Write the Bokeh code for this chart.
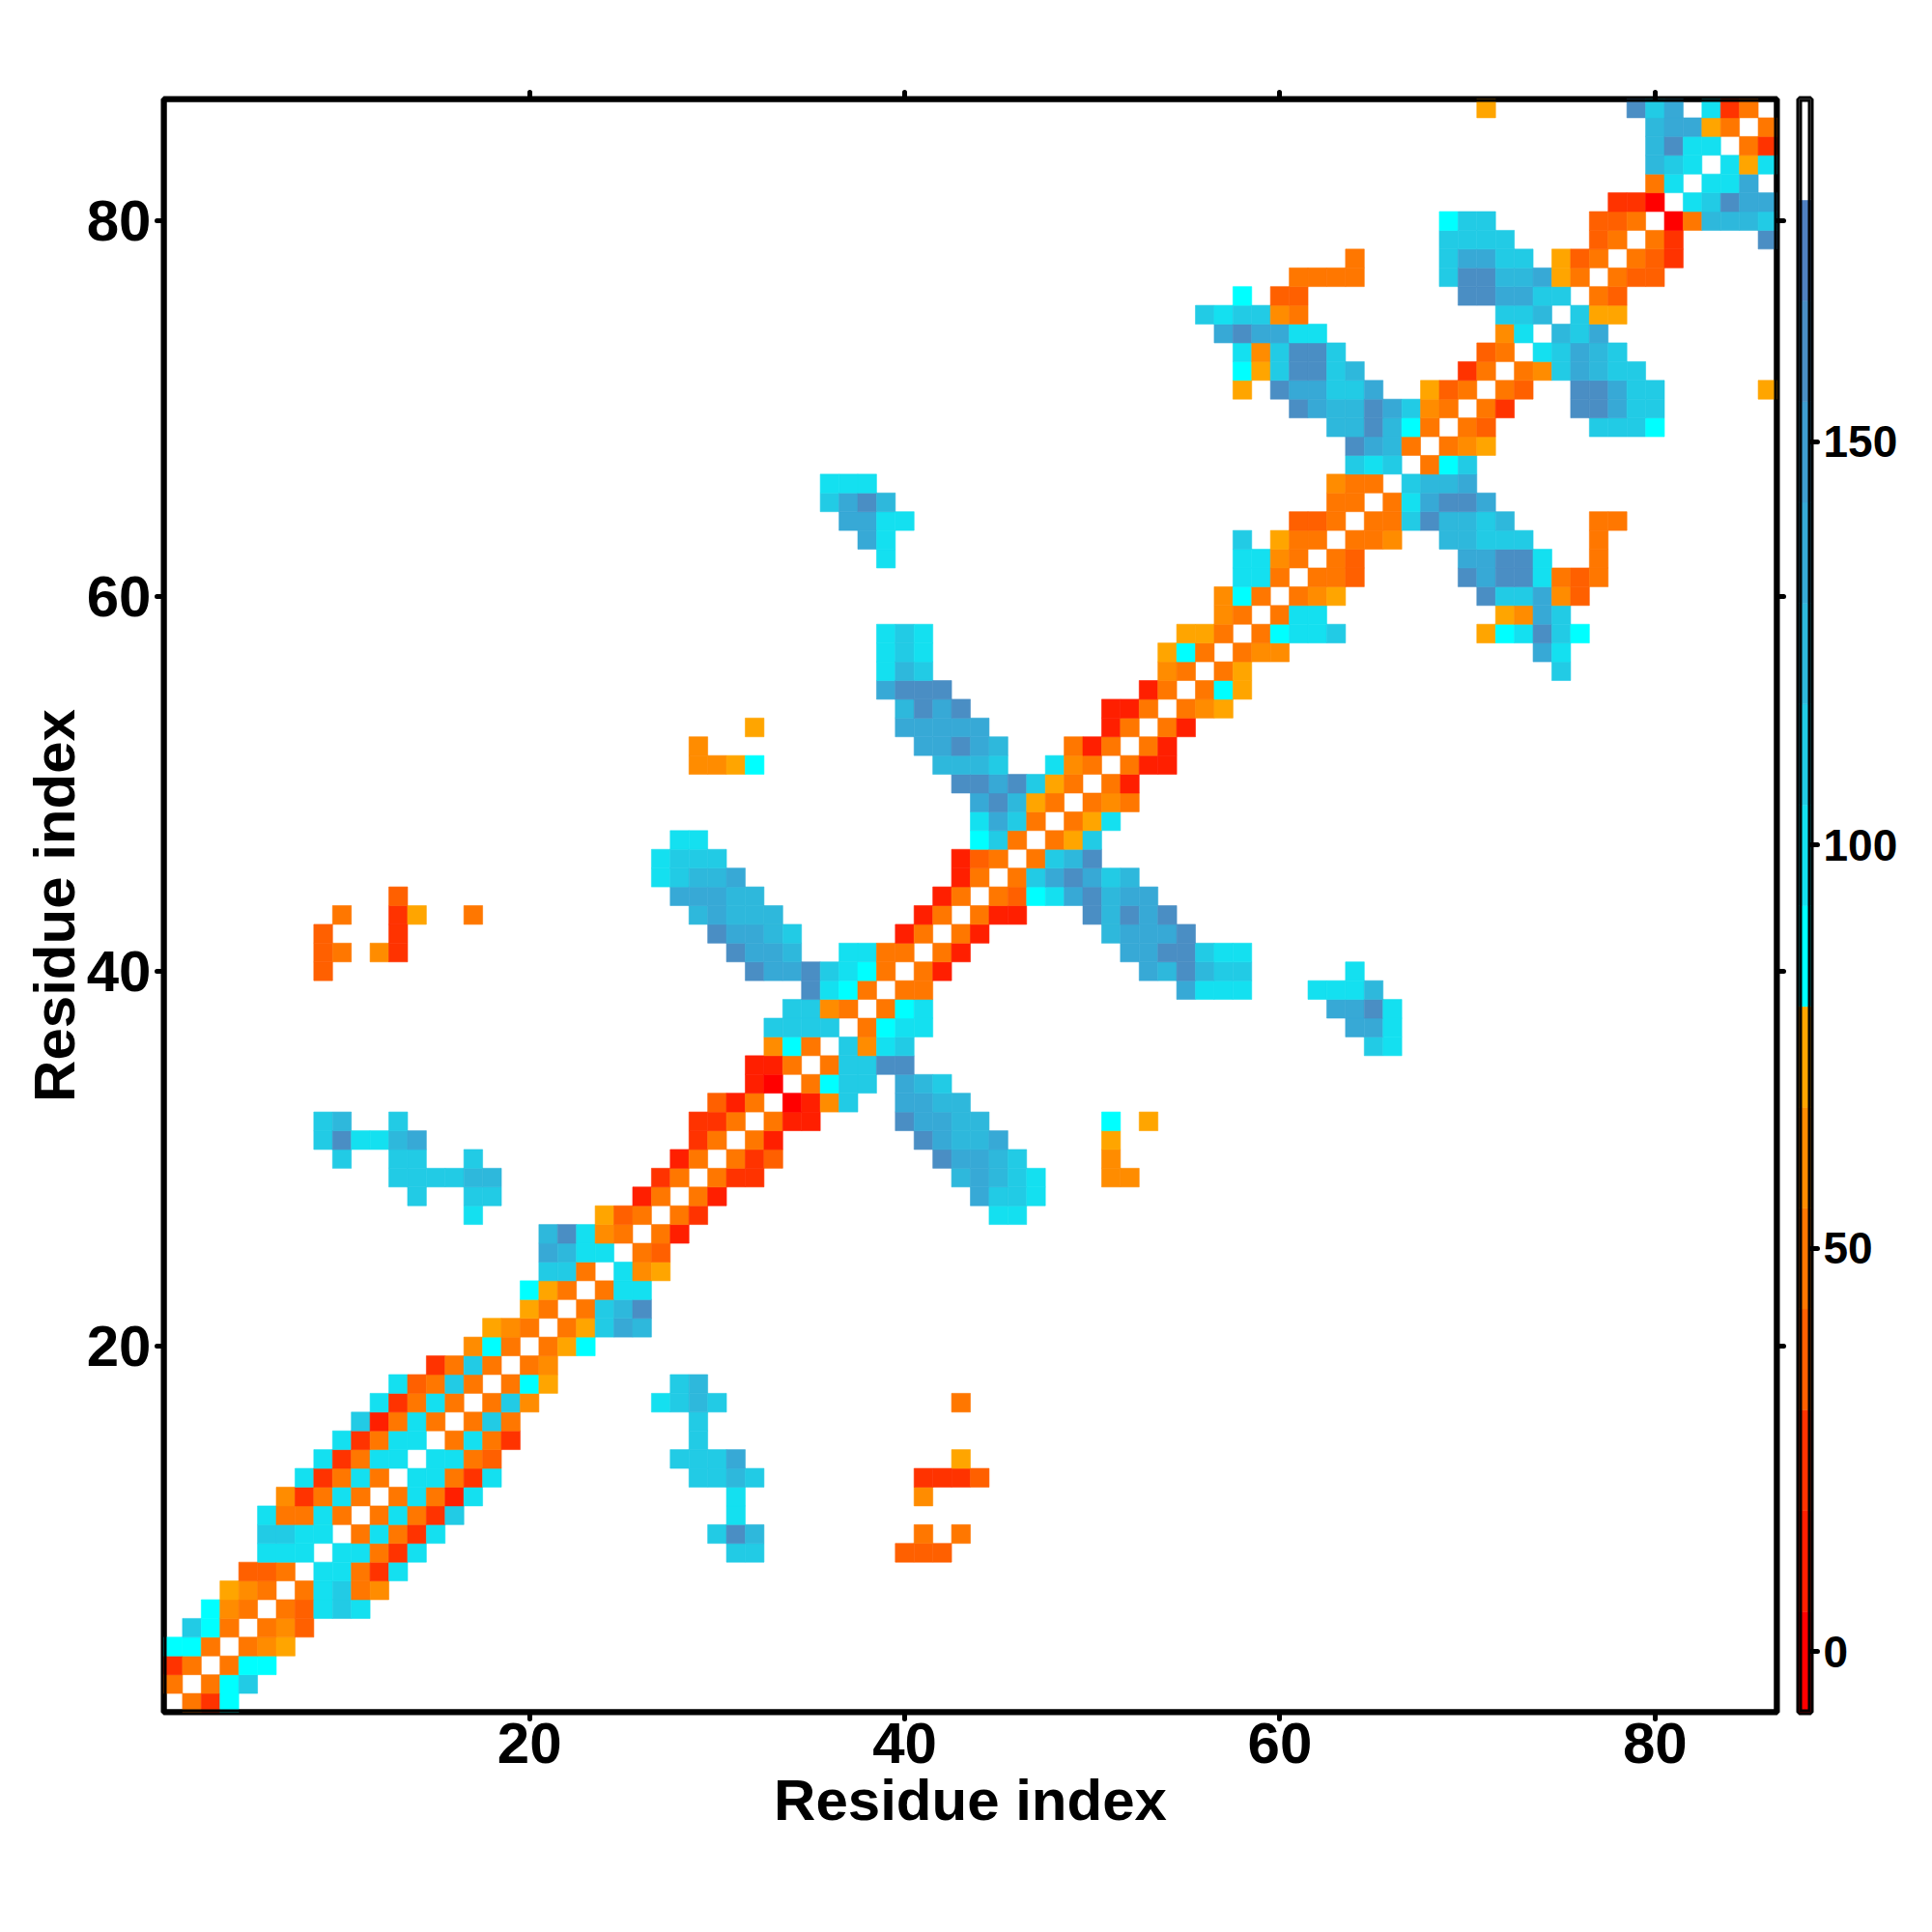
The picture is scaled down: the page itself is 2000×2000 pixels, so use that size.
from bokeh.plotting import figure
from bokeh.models import ColumnDataSource, LinearColorMapper, LinearAxis, FixedTicker, Range1d
from bokeh.layouts import row
from bokeh.embed import file_html
from bokeh.resources import INLINE

N_RESIDUES = 86
AXIS_TICKS = [20, 40, 60, 80]
BAR_TICKS = [0, 50, 100, 150]
AXIS_TITLE = "Residue index"

# stepped colour scale: 12.5 wide bins from -7.5 to 192.5
BAR_LOW = -7.5
BAR_HIGH = 192.5
PALETTE = ["#ff0000", "#ff1f00", "#ff3300", "#ff6000", "#ff7700", "#ff8c00", "#ffa500",
           "#00ffff", "#14e0f0", "#22cbe5", "#2eb8dc", "#37a9d6", "#3f9dd0", "#4a8ec4", "#4f80c0",
           "#ffffff"]

# value (angle) of each letter used below
LEVEL = {"a": -1.25, "b": 11.25, "c": 23.75, "d": 36.25, "e": 48.75, "f": 61.25, "g": 73.75,
         "h": 86.25, "i": 98.75, "j": 111.25, "k": 123.75, "l": 136.25, "m": 161.25}

# symmetric map: for each residue y, the residues x > y that have a value
CONTACTS = {
    1: "2e 3c 4h",
    2: "3e 4h 5j",
    3: "4e 5h 6h",
    4: "5e 6f 7g",
    5: "6e 7f 8d",
    6: "7e 8d 9i 10j 11i",
    7: "8e 9i 10j 11e 12f",
    8: "9i 10i 11e 12c 13i",
    9: "10i 11i 12e 13c 14i 31j 32j 40d 41d 42d",
    10: "11e 12i 13e 14c 15i 30j 31m 32k 41e 43e",
    11: "12e 13i 14e 15c 16j 31i",
    12: "13e 14i 15e 16b 17i 31i 41f",
    13: "14i 15i 16e 17c 18i 29j 30j 31k 32j 41c 42c 43c 44d",
    14: "15i 16i 17e 18d 28j 29j 30j 31l 43g",
    15: "16e 17i 18e 19c 29j",
    16: "17e 18j 19e 29j",
    17: "18e 19j 20f 27i 28j 29k 30j 43e",
    18: "19e 20h 21g 28j 29k",
    19: "20e 21f",
    20: "21e 22g 23h",
    21: "22e 23g 24j 25l 26k",
    22: "23e 24j 25k 26m",
    23: "24e 25i 26i",
    24: "25i 26f 27g",
    25: "26e 27d",
    26: "27e 28b",
    27: "28e 29c 45i 46i",
    28: "29e 30b 44l 45j 46j 47i",
    29: "30e 31c 32c 43k 44l 45k 46j 47i 51f 52f",
    30: "31e 32c 33d 42m 43l 44l 45k 46j 51f",
    31: "32e 33b 41m 42l 43k 44k 45l 51g",
    32: "33e 34b 35b 40m 41l 42l 43k 44k 51h 53g",
    33: "34a 35b 36f 37j 40l 41l 42k 43k",
    34: "35e 36h 37j 38j 40l 41k 42j",
    35: "36e 37j 38j 39m 40m",
    36: "37j 38f 39i 40j 65j 66i",
    37: "38e 39h 40i 41i 64l 65l 66i",
    38: "39e 40h 41i 63l 64l 65m 66i",
    39: "40e 41e 55l 56i 57i 58i 62i 63i 64i 65k",
    40: "41e 42b 53l 54k 55m 56k 57j 58j 64i",
    41: "42e 43b 52l 53l 54m 55m 56j 57i 58i",
    42: "43e 44b 51k 52l 53l 54l 55m",
    43: "44e 45b 46b 50m 51k 52m 53l 54m",
    44: "45e 46d 47h 48i 49l 50m 51k 52l 53l",
    45: "46e 47j 48l 49m 50l 51j 52k",
    46: "47e 48j 49k 50m",
    47: "48e 49g 50j",
    48: "49e 50g 51i",
    49: "50e 51f 52e",
    50: "51e 52b",
    51: "52e 53b 54b",
    52: "53e 54b",
    53: "54e 55b",
    54: "55e 56f 57g",
    55: "56e 57h 58g",
    56: "57e 58g 75j",
    57: "58e 59f 60f 74l 75i",
    58: "59e 60h 61i 62i 63j 71g 72h 73i 74m 75j 76h",
    59: "60e 61i 62i 72g 73f 74l 75j",
    60: "61e 62f 63g 71m 72j 73j 74l 75f 76d",
    61: "62e 63e 64d 70m 71l 72m 73m 74i 75e 76d 77e",
    62: "63e 64d 70l 71l 72m 73m 74i 77e",
    63: "64e 65e 66f 69k 70k 71j 72j 73j 77e",
    64: "65e 66e 67j 68m 69k 70k 71j 72k 77e 78e",
    65: "66e 67i 68l 69m 70m 71l",
    66: "67j 68k 69k 70l",
    67: "68e 69h 70j",
    68: "69e 70f 71g",
    69: "70e 71d 77j 78j 79j 80h",
    70: "71e 72c 76m 77m 78l 79j 80j",
    71: "72e 73d 76m 77m 78l 79j 80j 86g",
    72: "73e 74f 75j 76l 77k 78j 79j",
    73: "74i 75j 76l 77k 78j",
    74: "75k 76j 77l",
    75: "76j 77g 78g",
    76: "77e 78d",
    77: "78e 79d 80d",
    78: "79e 80d 81c",
    79: "80e 81c 86m",
    80: "81a 82e 83k 84k 85k 86j",
    81: "82i 83j 84m 85l 86l",
    82: "83i 84i 85l",
    83: "84i 85g 86i",
    84: "85e 86c",
    85: "86e",
}

xs, ys, vals = [], [], []
for y, cells in CONTACTS.items():
    for c in cells.split():
        x = int(c[:-1])
        v = LEVEL[c[-1]]
        xs += [x, y]
        ys += [y, x]
        vals += [v, v]

mapper = LinearColorMapper(palette=PALETTE, low=BAR_LOW, high=BAR_HIGH)
src = ColumnDataSource(dict(x=xs, y=ys, v=vals))

FONT = "Liberation Sans"
span = (0.5, N_RESIDUES + 0.5)
p = figure(output_backend="svg", toolbar_location=None, frame_width=1670, frame_height=1670,
           x_range=Range1d(*span), y_range=Range1d(*span),
           min_border_left=169, min_border_top=102, min_border_right=13, min_border_bottom=170,
           x_axis_location="below", y_axis_location="left", tools="",
           background_fill_color="white", border_fill_color="white")
p.grid.visible = False
p.rect("x", "y", 1, 1, source=src,
       fill_color={"field": "v", "transform": mapper},
       line_color={"field": "v", "transform": mapper}, line_width=0.6)
# frame redrawn over the cells: the glyph is clipped to the plot area, the outline supplies the outer half
p.quad(left=[span[0]], right=[span[1]], bottom=[span[0]], top=[span[1]],
       fill_color=None, line_color="black", line_width=6)
p.outline_line_color = "black"
p.outline_line_width = 6
p.add_layout(LinearAxis(), "above")
p.add_layout(LinearAxis(), "right")


def style_axis(ax, ticks, labels=True, size="60px"):
    ax.ticker = FixedTicker(ticks=ticks)
    ax.axis_line_color = None
    ax.major_tick_line_color = "black"
    ax.major_tick_line_width = 5
    ax.major_tick_line_cap = "round"
    ax.major_tick_in = 0
    ax.major_tick_out = 7
    ax.minor_tick_line_color = None
    if labels:
        ax.major_label_text_font = FONT
        ax.major_label_text_font_style = "bold"
        ax.major_label_text_font_size = size
        ax.major_label_text_color = "black"
    else:
        ax.major_label_text_color = None
        ax.major_label_text_font_size = "1px"
        ax.major_label_standoff = 0


for ax in p.below + p.left:
    style_axis(ax, AXIS_TICKS)
    ax.axis_label = AXIS_TITLE
    ax.axis_label_text_font = FONT
    ax.axis_label_text_font_style = "bold"
    ax.axis_label_text_font_size = "60px"
    ax.axis_label_text_color = "black"
    ax.axis_label_standoff = 2
p.below[0].major_label_standoff = 4
p.left[0].major_label_standoff = 6
p.left[0].axis_label_standoff = -3
for ax in p.above + p.right:
    style_axis(ax, AXIS_TICKS, labels=False)

# colour bar
bar_bottom = [BAR_LOW + i * (BAR_HIGH - BAR_LOW) / len(PALETTE) for i in range(len(PALETTE))]
bar_top = [BAR_LOW + (i + 1) * (BAR_HIGH - BAR_LOW) / len(PALETTE) for i in range(len(PALETTE))]
bar = figure(output_backend="svg", toolbar_location=None, frame_width=12, frame_height=1670,
             x_range=Range1d(0, 1), y_range=Range1d(BAR_LOW, BAR_HIGH),
             min_border_left=10, min_border_right=100, min_border_top=102, min_border_bottom=170,
             y_axis_location="right", tools="", background_fill_color="white")
bar.grid.visible = False
bar.xaxis.visible = False
bar.quad(left=0, right=1, bottom=bar_bottom, top=bar_top, fill_color=PALETTE, line_color=PALETTE, line_width=0.5)
bar.quad(left=[0], right=[1], bottom=[BAR_LOW], top=[BAR_HIGH],
         fill_color=None, line_color="black", line_width=6)
bar.outline_line_color = "black"
bar.outline_line_width = 6
style_axis(bar.right[0], BAR_TICKS, size="46px")
bar.right[0].major_label_standoff = 6
bar.right[0].major_tick_out = 7

layout = row(p, bar, spacing=0)
open("out.html", "w").write(file_html(layout, INLINE))
